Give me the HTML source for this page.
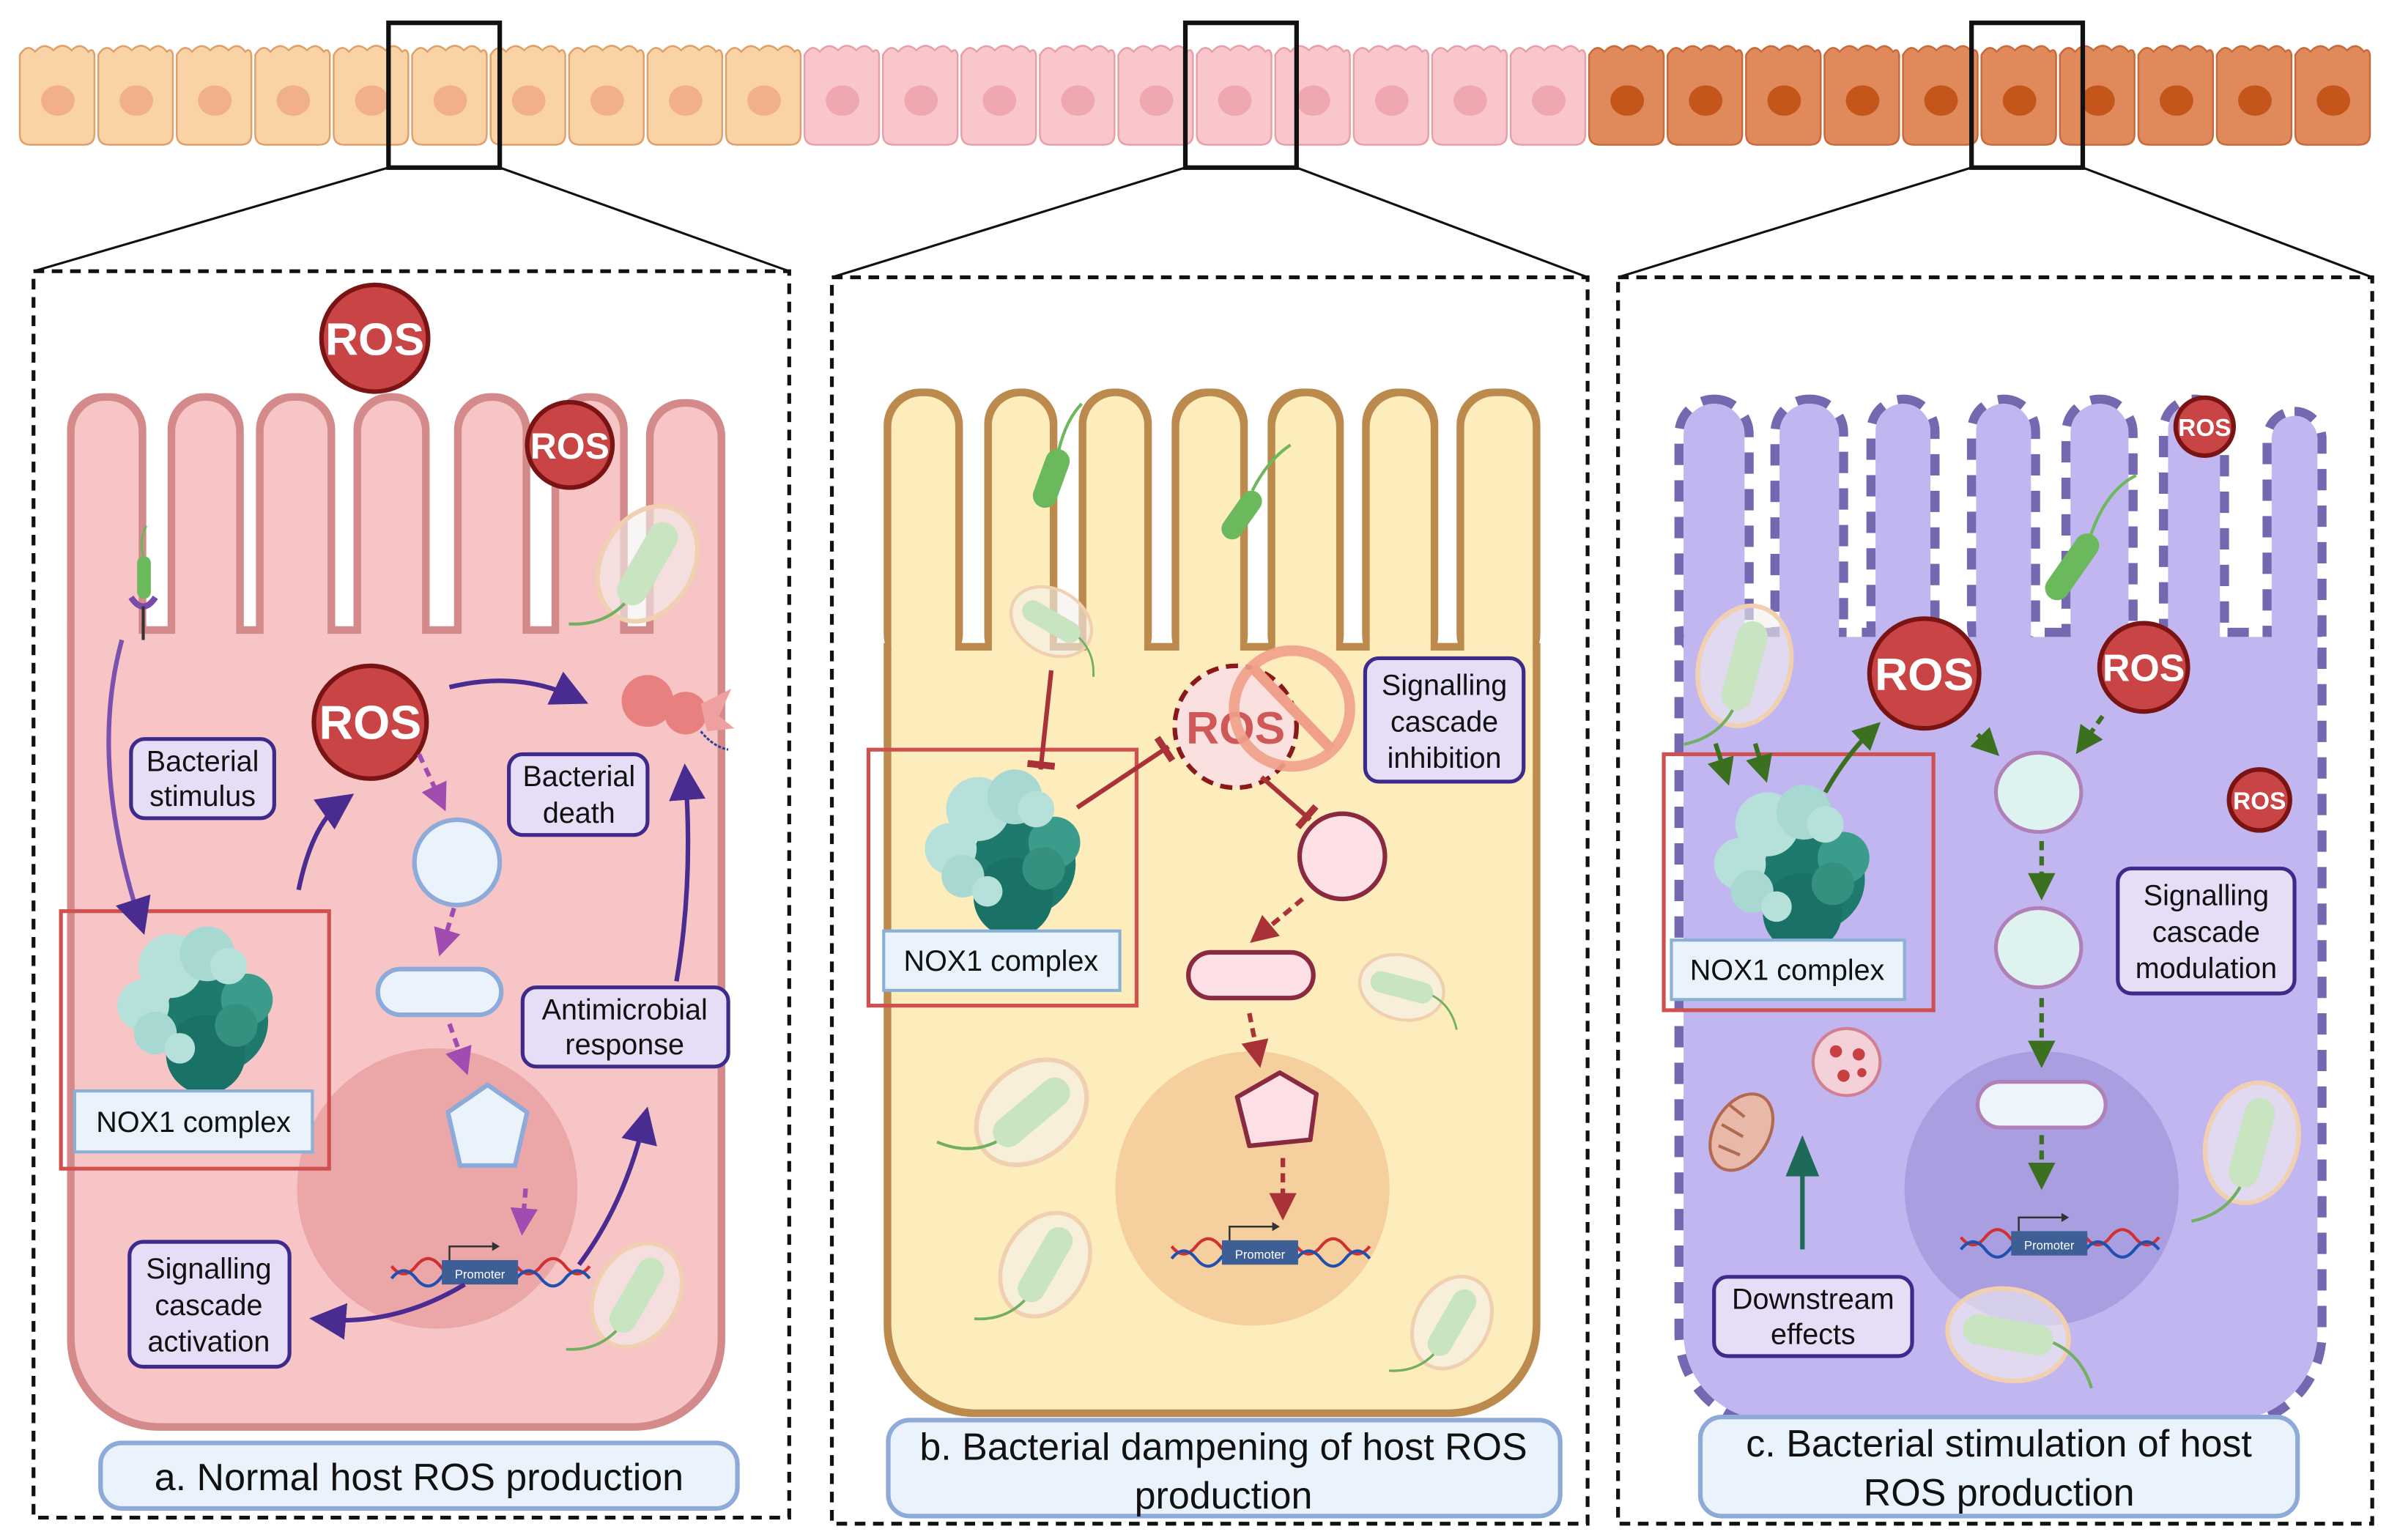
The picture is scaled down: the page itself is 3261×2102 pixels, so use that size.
<!DOCTYPE html>
<html><head><meta charset="utf-8"><style>
html,body{margin:0;padding:0;background:#fff;}
svg{display:block;}
text{font-family:"Liberation Sans",sans-serif;}
</style></head><body>
<svg width="3261" height="2102" viewBox="0 0 1568 1010.7" preserveAspectRatio="none" xmlns="http://www.w3.org/2000/svg">
<defs>
<g id="cell"><path d="M1,11 Q6,3 11,9 Q17,2 23,8 Q29,2 35,8 Q41,2 46,9 Q49,6 50,11 L50,63 Q50,70 43,70 L8,70 Q1,70 1,63 Z"/><ellipse cx="26" cy="41" rx="11" ry="10" fill="currentColor" stroke="none"/></g>
<g id="nox">
<circle cx="12" cy="12" r="34" fill="#1e7a6c"/><circle cx="5" cy="34" r="26" fill="#1a7266"/><circle cx="32" cy="-2" r="17" fill="#3c9c8c"/><circle cx="25" cy="15" r="14" fill="#35907f"/>
<circle cx="-18" cy="-24" r="21" fill="#b6e0da"/><circle cx="6" cy="-32" r="18" fill="#a8d8d2"/><circle cx="20" cy="-24" r="12" fill="#b6e0da"/><circle cx="-36" cy="2" r="17" fill="#b6e0da"/><circle cx="-28" cy="20" r="14" fill="#a8d8d2"/><circle cx="-12" cy="30" r="10" fill="#b6e0da"/>
</g>
<g id="bact"><ellipse cx="0" cy="0" rx="30" ry="40" fill="#f4f0ee" fill-opacity="0.6" stroke="#f0d0b0" stroke-width="3"/><rect x="-10" y="-30" width="20" height="60" rx="10" fill="#c8e4c0"/><path d="M0,30 Q-5,50 -25,60" fill="none" stroke="#70b060" stroke-width="2"/></g>
<g id="prom"><path d="M-58,-4 q8,10 16,0 q8,-10 16,0 q8,10 16,0 M24,-4 q8,10 16,0 q8,-10 16,0 q8,10 16,0" fill="none" stroke="#d03030" stroke-width="2"/><path d="M-58,4 q8,-10 16,0 q8,10 16,0 q8,-10 16,0 M24,4 q8,-10 16,0 q8,10 16,0 q8,-10 16,0" fill="none" stroke="#2050b0" stroke-width="2"/><rect x="-25" y="-8" width="50" height="16" fill="#3e5f96"/><text x="0" y="4" font-size="8" fill="#fff" text-anchor="middle">Promoter</text><path d="M-20,-8 v-9 h28" fill="none" stroke="#333" stroke-width="1.2"/><path d="M8,-20 l5,3 l-5,3z" fill="#333"/></g>
<marker id="mp" markerWidth="8" markerHeight="8" refX="5" refY="4" orient="auto" markerUnits="strokeWidth"><path d="M0,0 L8,4 L0,8 z" fill="#4a2c90"/></marker>
<marker id="mm" markerWidth="6" markerHeight="6" refX="4" refY="3" orient="auto" markerUnits="strokeWidth"><path d="M0,0 L6,3 L0,6 z" fill="#a04cb0"/></marker>
<marker id="mr" markerWidth="6" markerHeight="6" refX="4" refY="3" orient="auto" markerUnits="strokeWidth"><path d="M0,0 L6,3 L0,6 z" fill="#a83238"/></marker>
<marker id="mg" markerWidth="6" markerHeight="6" refX="4" refY="3" orient="auto" markerUnits="strokeWidth"><path d="M0,0 L6,3 L0,6 z" fill="#3a7020"/></marker>
<marker id="mt" markerWidth="4" markerHeight="6" refX="2" refY="3" orient="auto" markerUnits="strokeWidth"><path d="M1,0 L1,6" stroke="#a83238" stroke-width="1.5"/></marker>
</defs>

<!-- top strip -->
<g stroke-width="1.2">
<use href="#cell" x="12" y="25" fill="#f9d3a6" stroke="#e0a06a" color="#f2b08a"/>
<use href="#cell" x="63.5" y="25" fill="#f9d3a6" stroke="#e0a06a" color="#f2b08a"/>
<use href="#cell" x="115" y="25" fill="#f9d3a6" stroke="#e0a06a" color="#f2b08a"/>
<use href="#cell" x="166.5" y="25" fill="#f9d3a6" stroke="#e0a06a" color="#f2b08a"/>
<use href="#cell" x="218" y="25" fill="#f9d3a6" stroke="#e0a06a" color="#f2b08a"/>
<use href="#cell" x="269.5" y="25" fill="#f9d3a6" stroke="#e0a06a" color="#f2b08a"/>
<use href="#cell" x="321" y="25" fill="#f9d3a6" stroke="#e0a06a" color="#f2b08a"/>
<use href="#cell" x="372.5" y="25" fill="#f9d3a6" stroke="#e0a06a" color="#f2b08a"/>
<use href="#cell" x="424" y="25" fill="#f9d3a6" stroke="#e0a06a" color="#f2b08a"/>
<use href="#cell" x="475.5" y="25" fill="#f9d3a6" stroke="#e0a06a" color="#f2b08a"/>
<use href="#cell" x="527" y="25" fill="#f8c6cb" stroke="#e8a0a8" color="#f0a8b0"/>
<use href="#cell" x="578.5" y="25" fill="#f8c6cb" stroke="#e8a0a8" color="#f0a8b0"/>
<use href="#cell" x="630" y="25" fill="#f8c6cb" stroke="#e8a0a8" color="#f0a8b0"/>
<use href="#cell" x="681.5" y="25" fill="#f8c6cb" stroke="#e8a0a8" color="#f0a8b0"/>
<use href="#cell" x="733" y="25" fill="#f8c6cb" stroke="#e8a0a8" color="#f0a8b0"/>
<use href="#cell" x="784.5" y="25" fill="#f8c6cb" stroke="#e8a0a8" color="#f0a8b0"/>
<use href="#cell" x="836" y="25" fill="#f8c6cb" stroke="#e8a0a8" color="#f0a8b0"/>
<use href="#cell" x="887.5" y="25" fill="#f8c6cb" stroke="#e8a0a8" color="#f0a8b0"/>
<use href="#cell" x="939" y="25" fill="#f8c6cb" stroke="#e8a0a8" color="#f0a8b0"/>
<use href="#cell" x="990.5" y="25" fill="#f8c6cb" stroke="#e8a0a8" color="#f0a8b0"/>
<use href="#cell" x="1042" y="25" fill="#e08a5c" stroke="#c86a3a" color="#c4561c"/>
<use href="#cell" x="1093.5" y="25" fill="#e08a5c" stroke="#c86a3a" color="#c4561c"/>
<use href="#cell" x="1145" y="25" fill="#e08a5c" stroke="#c86a3a" color="#c4561c"/>
<use href="#cell" x="1196.5" y="25" fill="#e08a5c" stroke="#c86a3a" color="#c4561c"/>
<use href="#cell" x="1248" y="25" fill="#e08a5c" stroke="#c86a3a" color="#c4561c"/>
<use href="#cell" x="1299.5" y="25" fill="#e08a5c" stroke="#c86a3a" color="#c4561c"/>
<use href="#cell" x="1351" y="25" fill="#e08a5c" stroke="#c86a3a" color="#c4561c"/>
<use href="#cell" x="1402.5" y="25" fill="#e08a5c" stroke="#c86a3a" color="#c4561c"/>
<use href="#cell" x="1454" y="25" fill="#e08a5c" stroke="#c86a3a" color="#c4561c"/>
<use href="#cell" x="1505.5" y="25" fill="#e08a5c" stroke="#c86a3a" color="#c4561c"/>
</g>
<g fill="none" stroke="#111" stroke-width="3">
<rect x="255" y="15" width="73" height="95"/><rect x="778" y="15" width="73" height="95"/><rect x="1294" y="15" width="73" height="95"/>
</g>
<g stroke="#111" stroke-width="1.5">
<line x1="255" y1="110" x2="22" y2="178"/><line x1="328" y1="110" x2="518" y2="178"/>
<line x1="778" y1="110" x2="546" y2="182"/><line x1="851" y1="110" x2="1042" y2="182"/>
<line x1="1294" y1="110" x2="1062" y2="182"/><line x1="1367" y1="110" x2="1557" y2="182"/>
</g>
<g fill="none" stroke="#111" stroke-width="2.5" stroke-dasharray="7,5">
<rect x="22" y="178" width="496" height="818"/><rect x="546" y="182" width="496" height="818"/><rect x="1062" y="182" width="495" height="818"/>
</g>

<!-- Panel A cell -->
<g fill="#d48a8a">
<rect x="44" y="258" width="52" height="180" rx="24"/><rect x="110" y="258" width="50" height="180" rx="24"/><rect x="168" y="258" width="52" height="180" rx="24"/><rect x="232" y="258" width="50" height="180" rx="24"/><rect x="298" y="258" width="50" height="180" rx="24"/><rect x="362" y="258" width="50" height="180" rx="24"/><rect x="424" y="262" width="52" height="180" rx="24"/>
<path d="M44,411 H476 V879 A60,60 0 0 1 416,939 H104 A60,60 0 0 1 44,879 Z"/>
</g>
<g fill="#f7c5c5">
<rect x="49" y="263" width="42" height="180" rx="20"/><rect x="115" y="263" width="40" height="180" rx="20"/><rect x="173" y="263" width="42" height="180" rx="20"/><rect x="237" y="263" width="40" height="180" rx="20"/><rect x="303" y="263" width="40" height="180" rx="20"/><rect x="367" y="263" width="40" height="180" rx="20"/><rect x="429" y="267" width="42" height="180" rx="20"/>
<path d="M49,416 H471 V878 A56,56 0 0 1 415,934 H105 A56,56 0 0 1 49,878 Z"/>
</g>
<circle cx="287" cy="780" r="92" fill="#eba6a8"/>
<!-- Panel B cell -->
<g fill="#bc8a4c">
<rect x="580" y="255" width="52" height="185" rx="24"/><rect x="646" y="255" width="48" height="185" rx="23"/><rect x="708" y="255" width="48" height="185" rx="23"/><rect x="769" y="255" width="50" height="185" rx="23"/><rect x="832" y="255" width="50" height="185" rx="23"/><rect x="894" y="255" width="50" height="185" rx="23"/><rect x="956" y="255" width="55" height="185" rx="24"/>
<path d="M580,422 H1011 V870 A60,60 0 0 1 951,930 H640 A60,60 0 0 1 580,870 Z"/>
</g>
<g fill="#fdedbc">
<rect x="585" y="260" width="42" height="185" rx="20"/><rect x="651" y="260" width="38" height="185" rx="19"/><rect x="713" y="260" width="38" height="185" rx="19"/><rect x="774" y="260" width="40" height="185" rx="20"/><rect x="837" y="260" width="40" height="185" rx="20"/><rect x="899" y="260" width="40" height="185" rx="20"/><rect x="961" y="260" width="45" height="185" rx="20"/>
<path d="M585,427 H1006 V869 A56,56 0 0 1 950,925 H641 A56,56 0 0 1 585,869 Z"/>
</g>
<circle cx="822" cy="780" r="90" fill="#f6cf9e"/>
<!-- Panel C cell -->
<g fill="none" stroke="#7468b0" stroke-width="6" stroke-dasharray="14,10">
<rect x="1102" y="262" width="46" height="170" rx="23"/><rect x="1165" y="262" width="45" height="170" rx="22"/><rect x="1228" y="262" width="42" height="170" rx="21"/><rect x="1294" y="262" width="42" height="170" rx="21"/><rect x="1356" y="262" width="44" height="170" rx="22"/><rect x="1420" y="262" width="40" height="170" rx="20"/><rect x="1488" y="270" width="36" height="170" rx="18"/>
<path d="M1102,415 H1524 V875 A60,60 0 0 1 1464,935 H1162 A60,60 0 0 1 1102,875 Z"/>
</g>
<g fill="#c2b6f0">
<rect x="1105" y="265" width="40" height="170" rx="20"/><rect x="1168" y="265" width="39" height="170" rx="19"/><rect x="1231" y="265" width="36" height="170" rx="18"/><rect x="1297" y="265" width="36" height="170" rx="18"/><rect x="1359" y="265" width="38" height="170" rx="19"/><rect x="1423" y="265" width="34" height="170" rx="17"/><rect x="1491" y="273" width="30" height="170" rx="15"/>
<path d="M1105,418 H1521 V875 A57,57 0 0 1 1464,932 H1162 A57,57 0 0 1 1105,875 Z"/>
</g>
<circle cx="1340" cy="780" r="90" fill="#a99ee0"/>

<!-- bacteria -->
<use href="#bact" transform="translate(425,370) rotate(30)"/>
<use href="#bact" transform="translate(418,850) rotate(30) scale(0.9)"/>
<use href="#bact" transform="translate(690,408) rotate(-60) scale(0.7)"/>
<use href="#bact" transform="translate(920,648) rotate(-75) scale(0.7)"/>
<use href="#bact" transform="translate(677,730) rotate(50)"/>
<use href="#bact" transform="translate(686,830) rotate(30) scale(0.9)"/>
<use href="#bact" transform="translate(953,868) rotate(30) scale(0.8)"/>
<use href="#bact" transform="translate(1145,437) rotate(15)"/>
<use href="#bact" transform="translate(1478,750) rotate(15)"/>
<use href="#bact" transform="translate(1318,876) rotate(-80)"/>
<g><rect x="-8" y="-25" width="16" height="50" rx="8" fill="#6cb85c" transform="translate(1360,372) rotate(35)"/><path d="M1372,352 q10,-30 30,-40" fill="none" stroke="#6cb85c" stroke-width="2"/></g>
<g><rect x="-8" y="-20" width="16" height="40" rx="8" fill="#6cb85c" transform="translate(690,314) rotate(20)"/><path d="M695,295 q5,-20 15,-30" fill="none" stroke="#6cb85c" stroke-width="2"/></g>
<g><rect x="-7" y="-18" width="14" height="36" rx="7" fill="#6cb85c" transform="translate(815,338) rotate(35)"/><path d="M822,322 q10,-20 25,-30" fill="none" stroke="#6cb85c" stroke-width="2"/></g>
<rect x="90" y="365" width="9" height="28" rx="4.5" fill="#6cb85c"/><path d="M94,365 q-3,-10 2,-20" fill="none" stroke="#6cb85c" stroke-width="1.5"/>
<path d="M86,392 q8,12 16,0" fill="none" stroke="#7a4aa8" stroke-width="4"/><line x1="94" y1="398" x2="94" y2="420" stroke="#333" stroke-width="2"/>
<g fill="#e88080"><circle cx="425" cy="460" r="17"/><circle cx="450" cy="468" r="14"/><path d="M460,462 l20,-10 l-8,18 l10,8 l-18,2 z" fill="#f0a0a0"/></g>
<path d="M460,480 q8,10 18,12" fill="none" stroke="#3040a0" stroke-width="1.5" stroke-dasharray="2,1"/>
<ellipse cx="1143" cy="743" rx="18" ry="27" fill="#e8b8a8" stroke="#b06a50" stroke-width="2" transform="rotate(30 1143 743)"/>
<path d="M1135,725 l10,8 M1130,738 l14,8 M1128,752 l14,6" stroke="#b06a50" stroke-width="2"/>
<circle cx="1212" cy="697" r="22" fill="#f4d0d8" stroke="#d08090" stroke-width="2"/>
<g fill="#c84040"><circle cx="1205" cy="690" r="4"/><circle cx="1220" cy="692" r="4"/><circle cx="1210" cy="706" r="4"/><circle cx="1222" cy="704" r="3"/></g>

<use href="#prom" x="315" y="835"/>
<use href="#prom" x="827" y="822"/>
<use href="#prom" x="1345" y="816"/>

<use href="#nox" transform="translate(130,658)"/>
<use href="#nox" transform="translate(660,555)"/>
<use href="#nox" transform="translate(1178,565)"/>
<g fill="none" stroke="#d05050" stroke-width="2.5">
<rect x="40" y="598" width="176" height="169"/><rect x="570" y="492" width="176" height="168"/><rect x="1092" y="495" width="177" height="168"/>
</g>
<g fill="#eaf3fb" stroke="#8ab0d8" stroke-width="2">
<rect x="49" y="716" width="156" height="40"/><rect x="580" y="611" width="155" height="39"/><rect x="1097" y="617" width="153" height="39"/>
</g>
<g font-size="19" fill="#111" text-anchor="middle">
<text x="127" y="743">NOX1 complex</text><text x="657" y="637">NOX1 complex</text><text x="1173" y="643">NOX1 complex</text>
</g>

<g fill="#eaf3fb" stroke="#8eaad8" stroke-width="3">
<circle cx="300" cy="566" r="28"/><rect x="248" y="636" width="81" height="30" rx="15"/>
<path d="M320,712 L346,730 L338,765 L302,765 L294,730 Z" stroke-linejoin="round"/>
</g>
<g fill="#fde0e6" stroke="#8a2a40" stroke-width="3">
<circle cx="881" cy="562" r="28"/><rect x="780" y="625" width="82" height="30" rx="15"/>
<path d="M840,704 L864,718 L860,748 L820,752 L812,720 Z" stroke-linejoin="round"/>
</g>
<g fill="#def3ef" stroke="#b080b8" stroke-width="2.5">
<ellipse cx="1338" cy="520" rx="28" ry="26"/><ellipse cx="1338" cy="622" rx="28" ry="26"/><rect x="1298" y="710" width="84" height="30" rx="15" fill="#eef4fc"/>
</g>

<g fill="#c94545" stroke="#7a1414" stroke-width="3">
<circle cx="246" cy="222" r="35"/><circle cx="374" cy="292" r="28"/><circle cx="243" cy="474" r="37"/>
<circle cx="1447" cy="280" r="19"/><circle cx="1263" cy="442" r="36"/><circle cx="1407" cy="438" r="29"/><circle cx="1483" cy="525" r="20"/>
</g>
<g fill="#fff" font-weight="bold" text-anchor="middle">
<text x="246" y="233" font-size="30">ROS</text><text x="374" y="301" font-size="24">ROS</text><text x="243" y="485" font-size="31">ROS</text>
<text x="1447" y="286" font-size="16">ROS</text><text x="1263" y="453" font-size="30">ROS</text><text x="1407" y="447" font-size="25">ROS</text><text x="1483" y="531" font-size="16">ROS</text>
</g>
<circle cx="811" cy="477" r="40" fill="#fbe0e0" stroke="#8a1a1a" stroke-width="3" stroke-dasharray="8,5"/>
<text x="811" y="488" font-size="30" font-weight="bold" fill="#d05858" text-anchor="middle">ROS</text>
<circle cx="848" cy="465" r="38" fill="none" stroke="#f0a088" stroke-width="7" opacity="0.9"/>
<line x1="822" y1="438" x2="874" y2="492" stroke="#f0a088" stroke-width="7"/>

<g fill="none" stroke="#4a2c90" stroke-width="3">
<path d="M80,420 Q58,500 92,605" marker-end="url(#mp)" stroke="#7a50b0"/>
<path d="M196,584 Q205,540 225,526" marker-end="url(#mp)"/>
<path d="M295,451 Q340,440 378,458" marker-end="url(#mp)"/>
<path d="M444,644 Q455,580 450,510" marker-end="url(#mp)"/>
<path d="M380,830 Q410,790 423,735" marker-end="url(#mp)"/>
<path d="M305,843 Q260,870 212,866" marker-end="url(#mp)"/>
</g>
<g fill="none" stroke="#a04cb0" stroke-width="3" stroke-dasharray="6,4">
<path d="M275,495 L290,527" marker-end="url(#mm)"/>
<path d="M298,596 L290,622" marker-end="url(#mm)"/>
<path d="M295,672 L305,700" marker-end="url(#mm)"/>
<path d="M345,780 L343,805" marker-end="url(#mm)"/>
</g>
<g fill="none" stroke="#a83238" stroke-width="3">
<path d="M690,440 L683,505" marker-end="url(#mt)"/>
<path d="M707,530 L767,490" marker-end="url(#mt)"/>
<path d="M828,510 L860,538" marker-end="url(#mt)"/>
</g>
<g fill="none" stroke="#a83238" stroke-width="3" stroke-dasharray="6,4">
<path d="M855,590 L825,615" marker-end="url(#mr)"/>
<path d="M820,665 L826,695" marker-end="url(#mr)"/>
<path d="M842,760 L842,795" marker-end="url(#mr)"/>
</g>
<g fill="none" stroke="#3a7020" stroke-width="3">
<path d="M1126,488 L1133,510" marker-end="url(#mg)"/>
<path d="M1152,488 L1158,508" marker-end="url(#mg)"/>
<path d="M1198,520 Q1212,495 1230,478" marker-end="url(#mg)"/>
</g>
<g fill="none" stroke="#3a7020" stroke-width="3" stroke-dasharray="6,4">
<path d="M1298,482 L1308,492" marker-end="url(#mg)"/>
<path d="M1380,470 L1366,490" marker-end="url(#mg)"/>
<path d="M1340,552 L1340,585" marker-end="url(#mg)"/>
<path d="M1340,655 L1340,695" marker-end="url(#mg)"/>
<path d="M1340,745 L1340,775" marker-end="url(#mg)"/>
</g>
<line x1="1183" y1="820" x2="1183" y2="770" stroke="#1e6a58" stroke-width="3"/>
<path d="M1172,772 L1183,745 L1194,772 Z" fill="#1e6a58"/>

<g fill="#e6def6" stroke="#3e2a8a" stroke-width="2.5">
<rect x="86" y="485" width="94" height="52" rx="9"/>
<rect x="334" y="495" width="91" height="53" rx="9"/>
<rect x="343" y="648" width="135" height="52" rx="9"/>
<rect x="85" y="815" width="105" height="82" rx="9"/>
<rect x="896" y="432" width="104" height="81" rx="9"/>
<rect x="1390" y="570" width="116" height="82" rx="9"/>
<rect x="1125" y="838" width="130" height="52" rx="9"/>
</g>
<g font-size="19" fill="#111" text-anchor="middle">
<text x="133" y="506">Bacterial</text><text x="133" y="529">stimulus</text>
<text x="380" y="516">Bacterial</text><text x="380" y="540">death</text>
<text x="410" y="669">Antimicrobial</text><text x="410" y="692">response</text>
<text x="137" y="839">Signalling</text><text x="137" y="863">cascade</text><text x="137" y="887">activation</text>
<text x="948" y="456">Signalling</text><text x="948" y="480">cascade</text><text x="948" y="504">inhibition</text>
<text x="1448" y="594">Signalling</text><text x="1448" y="618">cascade</text><text x="1448" y="642">modulation</text>
<text x="1190" y="859">Downstream</text><text x="1190" y="882">effects</text>
</g>

<g fill="#eaf3fb" stroke="#8eaad8" stroke-width="3">
<rect x="66" y="947" width="418" height="43" rx="14"/>
<rect x="583" y="932" width="441" height="63" rx="14"/>
<rect x="1116" y="930" width="392" height="65" rx="14"/>
</g>
<g font-size="25" fill="#111" text-anchor="middle">
<text x="275" y="978">a. Normal host ROS production</text>
<text x="803" y="958">b. Bacterial dampening of host ROS</text><text x="803" y="990">production</text>
<text x="1312" y="956">c. Bacterial stimulation of host</text><text x="1312" y="988">ROS production</text>
</g>
</svg>
</body></html>
